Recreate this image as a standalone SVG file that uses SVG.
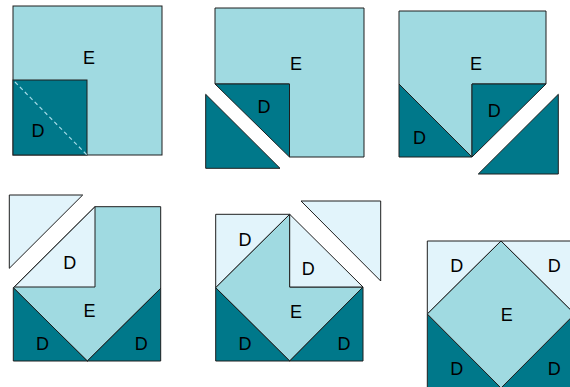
<svg xmlns="http://www.w3.org/2000/svg" width="570" height="387" viewBox="0 0 570 387">
<style>
.e{fill:#A0DAE1;stroke:#1e1e1e;stroke-width:1;stroke-linejoin:miter}
.d{fill:#00788A;stroke:#1e1e1e;stroke-width:1}
.l{fill:#E2F4FB;stroke:#1e1e1e;stroke-width:1}
.dash{stroke:#A6DCE8;stroke-width:1.2;stroke-dasharray:4 3;fill:none}
text{font-family:"Liberation Sans",Arial,sans-serif;font-size:18px;fill:#000;text-anchor:middle}
</style>
<rect width="570" height="387" fill="#fff"/>
<g id="panel1">
<rect class="e" x="13" y="6" width="149" height="149"/>
<rect class="d" x="13" y="80" width="74" height="75"/>
<line class="dash" x1="15" y1="82" x2="88" y2="156"/>
<text x="89" y="64">E</text>
<text x="38" y="137">D</text>
</g>
<g id="panel2">
<polygon class="e" points="215,8 364,8 364,157 289.5,157 289.5,84 215,84"/>
<polygon class="d" points="215,84 289.5,84 289.5,157"/>
<polygon class="d" points="205.7,94.3 205.7,168.3 280,168.3"/>
<text x="296" y="70">E</text>
<text x="264" y="112.5">D</text>
</g>
<g id="panel3">
<polygon class="e" points="399,11 546,11 546,84 472,84 472,157 399,84"/>
<polygon class="d" points="399,84 472,157 399,157"/>
<polygon class="d" points="472,84 546,84 472,157"/>
<polygon class="d" points="558.3,94.3 558.3,174 478.3,174"/>
<text x="476" y="70">E</text>
<text x="494.2" y="116.5">D</text>
<text x="419.5" y="144">D</text>
</g>
<g id="panel4">
<polygon class="e" points="95,206.7 160.7,206.7 160.7,288.3 87.3,361 13.3,287.7"/>
<polygon class="l" points="14.3,287 95,206.7 95,287"/>
<polygon class="d" points="13.3,287.7 87.3,361 13.3,361"/>
<polygon class="d" points="160.7,288.3 160.7,361 87.3,361"/>
<polygon class="l" points="9.3,195 82.7,195 9.3,268.3"/>
<text x="69.7" y="269">D</text>
<text x="89.5" y="317.3">E</text>
<text x="42.5" y="350">D</text>
<text x="141.2" y="350">D</text>
</g>
<g id="panel5">
<polygon class="l" points="215.7,214.3 289.7,214.3 215.7,287.7"/>
<polygon class="e" points="289.7,214.3 289.7,287 363,287 289.7,361 215.7,287.7"/>
<polygon class="l" points="289.7,214.3 363,287 289.7,287"/>
<polygon class="d" points="215.7,287.7 289.7,361 215.7,361"/>
<polygon class="d" points="363,287 363,361 289.7,361"/>
<polygon class="l" points="301,201 380.7,201 380.7,281"/>
<text x="245" y="246">D</text>
<text x="308.3" y="275">D</text>
<text x="296" y="317.5">E</text>
<text x="245" y="350">D</text>
<text x="344" y="350">D</text>
</g>
<g id="panel6">
<polygon class="l" points="427.3,241 501,241 427.3,314"/>
<polygon class="l" points="501,241 574.7,241 574.7,314"/>
<polygon class="d" points="427.3,314 501,388 427.3,388"/>
<polygon class="d" points="574.7,314 574.7,388 501,388"/>
<polygon class="e" points="501,241 574.7,314 501,388 427.3,314"/>
<text x="456.7" y="271.5">D</text>
<text x="554.3" y="271.5">D</text>
<text x="506.7" y="321">E</text>
<text x="456.7" y="375">D</text>
<text x="554.3" y="375">D</text>
</g>
</svg>
